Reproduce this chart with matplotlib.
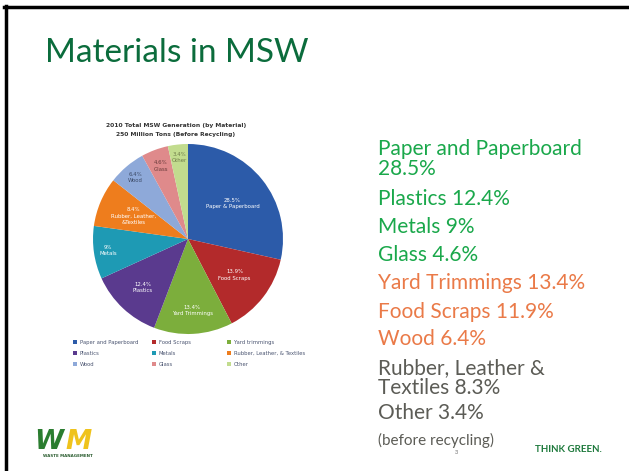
import matplotlib
matplotlib.use("Agg")
import numpy as np
from matplotlib import pyplot as plt
from matplotlib.lines import Line2D

# pie data, clockwise from 12 o'clock
materials = ["Paper and Paperboard", "Food Scraps", "Yard trimmings", "Plastics",
             "Metals", "Rubber, Leather, & Textiles", "Wood", "Glass", "Other"]
slice_labels = ["Paper & Paperboard", "Food Scraps", "Yard Trimmings", "Plastics",
                "Metals", "Rubber, Leather,\n&Textiles", "Wood", "Glass", "Other"]
pct_text = ["28.5%", "13.9%", "13.4%", "12.4%", "9%", "8.4%", "6.4%", "4.6%", "3.4%"]
shares = [28.5, 13.9, 13.4, 12.4, 9.0, 8.4, 6.4, 4.6, 3.4]
colors = ["#2c5ba9", "#b32a2b", "#7cae3c", "#5a3a8e", "#1e9ab4",
          "#ee7d1d", "#8ea9d9", "#df8a8b", "#c2dc8e"]
text_colors = ["white", "white", "white", "white", "white",
               "white", "#3c4a66", "#6a3b3b", "#6f7d4a"]
# how far out each slice label sits (fraction of radius)
label_r = [0.6, 0.62, 0.75, 0.7, 0.85, 0.62, 0.85, 0.82, 0.86]

# bullet list on the right
side_lines = ["Paper and Paperboard\n28.5%", "Plastics 12.4%", "Metals 9%", "Glass 4.6%",
              "Yard Trimmings 13.4%", "Food Scraps 11.9%", "Wood 6.4%",
              "Rubber, Leather &\nTextiles 8.3%", "Other 3.4%"]
side_y = [159, 199, 227, 255, 283, 312, 339, 378, 413]
side_colors = ["#1aa84b"] * 4 + ["#ea7a48"] * 3 + ["#5c5c56"] * 2

W, H = 629, 471
plt.rcParams['font.family'] = ['Lato', 'DejaVu Sans']
fig = plt.figure(figsize=(W / 100, H / 100), dpi=100)
fig.patch.set_facecolor("white")

# slide frame (top and left edges)
fig.add_artist(Line2D([4 / W, 627 / W], [1 - 6.5 / H, 1 - 6.5 / H], color="black", lw=2.5))
fig.add_artist(Line2D([5.5 / W, 5.5 / W], [1 - 6 / H, 0], color="black", lw=2.5))

fig.text(45 / W, 1 - 53 / H, "Materials in MSW", fontsize=24, color="#0b6c3c", va="center")

# pie
ax = fig.add_axes([93 / W, 1 - 334 / H, 190 / W, 190 / H])
wedges, _ = ax.pie(shares, colors=colors, startangle=90, counterclock=False, radius=1)
ax.set_xlim(-1, 1)
ax.set_ylim(-1, 1)
for i, w in enumerate(wedges):
    mid = np.deg2rad((w.theta1 + w.theta2) / 2)
    r = label_r[i]
    ax.text(r * np.cos(mid), r * np.sin(mid), pct_text[i] + "\n" + slice_labels[i],
            ha="center", va="center", fontsize=3.9, color=text_colors[i],
            family="DejaVu Sans", linespacing=1.3)

fig.text(176 / W, 1 - 125 / H, "2010 Total MSW Generation (by Material)",
         ha="center", va="center", fontsize=4.3, weight="bold", color="#333333",
         family="DejaVu Sans")
fig.text(176 / W, 1 - 135 / H, "250 Million Tons (Before Recycling)",
         ha="center", va="center", fontsize=4.3, weight="bold", color="#333333",
         family="DejaVu Sans")

# legend, three columns placed like the original
col_x = [68, 147, 222]
for c in range(3):
    idx = [c, c + 3, c + 6]
    leg = fig.legend([wedges[i] for i in idx], [materials[i] for i in idx],
                     loc="upper left", bbox_to_anchor=(col_x[c] / W, 1 - 335 / H),
                     frameon=False, handlelength=0.8, handleheight=0.8,
                     handletextpad=0.5, labelspacing=1.15,
                     prop={"family": "DejaVu Sans", "size": 3.8}, labelcolor="#4a5470")

for txt, y, c in zip(side_lines, side_y, side_colors):
    fig.text(378 / W, 1 - y / H, txt, fontsize=15, color=c, va="center",
             linespacing=1.05)
fig.text(378 / W, 1 - 440 / H, "(before recycling)", fontsize=11, color="#5c5c56",
         va="center")
fig.text(456 / W, 1 - 452 / H, "3", fontsize=4, color="#666666", ha="center", va="center")

# footer logos
fig.text(34 / W, 1 - 449 / H, "W", fontsize=19, weight="black", color="#2b7d30",
         va="baseline", family="DejaVu Sans", style="italic")
fig.text(65 / W, 1 - 449 / H, "M", fontsize=19, weight="black", color="#efc31c",
         va="baseline", family="DejaVu Sans", style="italic")
fig.text(68 / W, 1 - 456 / H, "WASTE MANAGEMENT", fontsize=2.9, weight="bold",
         color="#2b5d30", ha="center", va="center", family="DejaVu Sans")
fig.text(568 / W, 1 - 449 / H, "THINK GREEN.", fontsize=7, weight="bold",
         color="#1f7a3d", ha="center", va="center")

fig.savefig("out.png", dpi=100)
